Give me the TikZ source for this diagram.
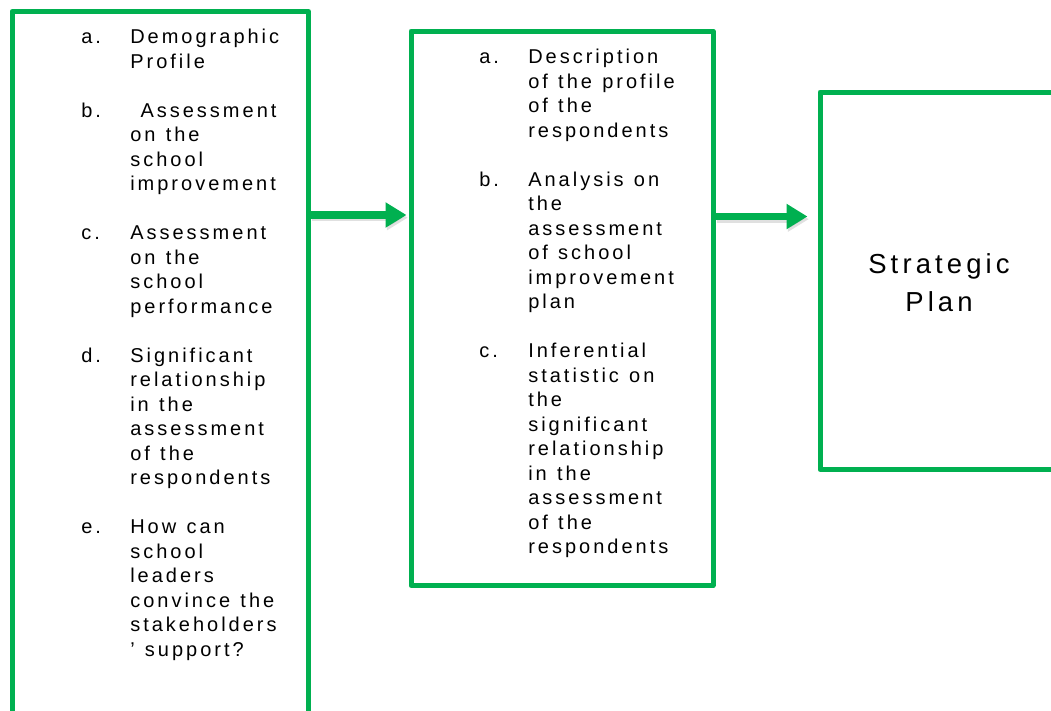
\documentclass[tikz,border=0pt]{standalone}
\usepackage{fontspec}
\setmainfont{Liberation Sans}[LetterSpace=15, WordSpace=1.2]
\usetikzlibrary{arrows.meta}
\definecolor{boxgreen}{RGB}{0,176,80}
% strut fixing the distance from a node's top edge to its first baseline
\newcommand{\lnstrut}{\rule{0pt}{15pt}}
\newcommand{\bigstrut}{\rule{0pt}{18pt}}
\begin{document}
\begin{tikzpicture}[
  x=0.75pt, y=-0.75pt,
  panel/.style={draw=boxgreen, line width=3.75pt, line join=round, rectangle, inner sep=0pt},
  itemtext/.style={anchor=north west, inner sep=0pt, align=left,
    font=\fontsize{15pt}{18.375pt}\selectfont},
  flow/.style={draw=boxgreen, line width=5.6pt,
    -{Triangle[length=15.75pt, width=18pt]}},
  flowshadow/.style={draw=black, opacity=0.12, line width=5.6pt,
    -{Triangle[length=15.75pt, width=18pt]}}
]
\useasboundingbox (0,0) rectangle (1051,711);
\clip (0,0) rectangle (1051,711);

% panels
\node[panel, minimum width=222.375pt, minimum height=561.375pt] (L) at (160.25,385.75) {};
\node[panel, minimum width=226.5pt, minimum height=415.875pt] (M) at (562,308.25) {};
\node[panel, minimum width=178.5pt, minimum height=283.125pt, align=center,
      font=\fontsize{20.6pt}{28.875pt}\selectfont] (R) at (939,280.75) {\bigstrut Strategic\\Plan};

% left list
\node[itemtext] (la) at (81,23.5) {\lnstrut a.};
\node[itemtext] (lat) at (130,23.5) {\lnstrut Demographic\\Profile};
\node[itemtext] (lb) at (81,97) {\lnstrut b.};
\node[itemtext] (lbt) at (130,97) {\lnstrut\ Assessment\\on the\\school\\improvement};
\node[itemtext] (lc) at (81,219.5) {\lnstrut c.};
\node[itemtext] (lct) at (130,219.5) {\lnstrut Assessment\\on the\\school\\performance};
\node[itemtext] (ld) at (81,342) {\lnstrut d.};
\node[itemtext] (ldt) at (130,342) {\lnstrut Significant\\relationship\\in the\\assessment\\of the\\respondents};
\node[itemtext] (le) at (81,513.5) {\lnstrut e.};
\node[itemtext] (let) at (130,513.5) {\lnstrut How can\\school\\leaders\\convince the\\stakeholders\\’ support?};

% middle list
\node[itemtext] (ma) at (479,43.5) {\lnstrut a.};
\node[itemtext] (mat) at (528,43.5) {\lnstrut Description\\of the profile\\of the\\respondents};
\node[itemtext] (mb) at (479,166) {\lnstrut b.};
\node[itemtext] (mbt) at (528,166) {\lnstrut Analysis on\\the\\assessment\\of school\\improvement\\plan};
\node[itemtext] (mc) at (479,337.5) {\lnstrut c.};
\node[itemtext] (mct) at (528,337.5) {\lnstrut Inferential\\statistic on\\the\\significant\\relationship\\in the\\assessment\\of the\\respondents};

% connectors with a faint drop shadow
\draw[flowshadow, shorten >=1.5pt, transform canvas={xshift=1pt, yshift=-2pt}] (L.east |- 0,215) -- (M.west |- 0,215);
\draw[flowshadow, shorten >=7.5pt, transform canvas={xshift=1pt, yshift=-2pt}] (M.east |- 0,216.5) -- (R.west |- 0,216.5);
\draw[flow, shorten >=1.5pt] (L.east |- 0,215) -- (M.west |- 0,215);
\draw[flow, shorten >=7.5pt] (M.east |- 0,216.5) -- (R.west |- 0,216.5);
\end{tikzpicture}
\end{document}
